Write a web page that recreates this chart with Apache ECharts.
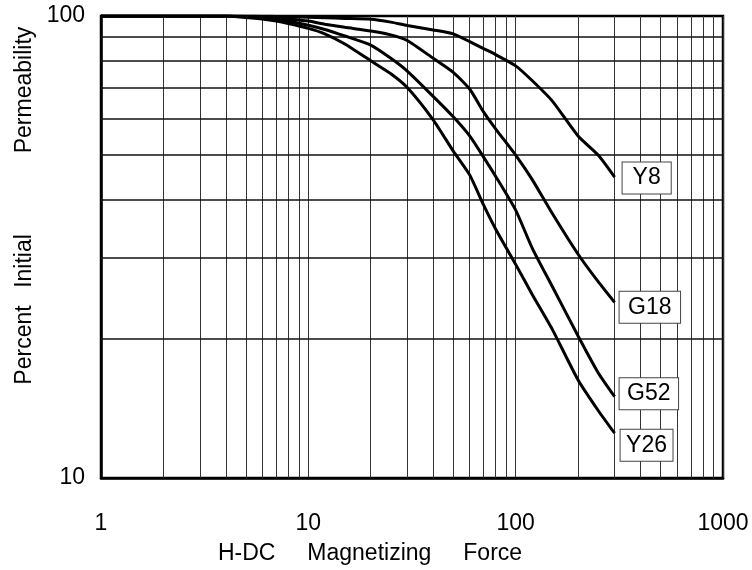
<!DOCTYPE html>
<html>
<head>
<meta charset="utf-8">
<script src="https://cdn.jsdelivr.net/npm/echarts@6/dist/echarts.min.js"></script>
<style>
html,body{margin:0;padding:0;background:#fff;}
#chart{width:752px;height:570px;}
</style>
</head>
<body>
<div id="chart"></div>
<script>
// ---- data ----
const seriesNames = ['Y8', 'G18', 'G52', 'Y26'];
const xValues = [1, 2, 3, 4, 5, 6, 7, 8, 10, 12, 15, 20, 25, 30, 40, 50, 60, 70, 80, 100, 120, 150, 200, 250, 300];
const y8  = [100, 100, 100, 100, 100, 99.9, 99.8, 99.7, 99.4, 99.1, 98.8, 98.4, 97, 95.4, 93.3, 91.5, 88, 85, 82.5, 78, 72.5, 65.5, 55, 50, 44.8];
const g18 = [100, 100, 100, 100, 99.8, 99.5, 99, 98.5, 97.5, 96, 94.5, 92.8, 91, 88.5, 81, 75.5, 69.5, 62, 57, 50, 44.3, 37.4, 30.5, 26.6, 24];
const g52 = [100, 100, 100, 100, 99.5, 99, 98.3, 97.5, 95.5, 93.5, 90.5, 86.5, 81, 76, 67, 60.5, 55, 49.5, 45, 38, 31.5, 26, 20.3, 16.9, 15];
const y26 = [100, 100, 100, 100, 99.3, 98.5, 97.5, 96.3, 94, 91.5, 87, 80, 75, 70, 59.6, 51, 45.3, 39, 34.6, 29, 25, 21, 16.3, 14, 12.5];
const xGridValues = [2, 3, 4, 5, 6, 7, 8, 9, 20, 30, 40, 50, 60, 70, 80, 90, 200, 300, 400, 500, 600, 700, 800, 900];
const yGridValues = [20, 30, 40, 50, 60, 70, 80, 90];
const xAxisTitle = 'H-DC     Magnetizing     Force';
const yAxisTitleWords = ['Percent', 'Initial', 'Permeability'];

const FONT = '"Liberation Sans", Arial, sans-serif';
const curves = [y8, g18, g52, y26];
const labelOffsets = [[3, 1], [0, 5], [0, -3], [1, 12]];
const labelPads = [[4, 10], [4, 8.5], [4, 7.5], [4, 5.5]];

const chart = echarts.init(document.getElementById('chart'), null, {renderer: 'canvas'});

const gridMarks = [];
xGridValues.forEach(v => gridMarks.push({xAxis: v, lineStyle: {color: '#333', width: 1, type: 'solid'}}));
yGridValues.forEach(v => gridMarks.push({yAxis: v, lineStyle: {color: '#111', width: 1.6, type: 'solid'}}));

const series = [{
  type: 'line',
  name: 'grid',
  data: [[1, 100]],
  showSymbol: false,
  lineStyle: {opacity: 0},
  silent: true,
  z: 1,
  markLine: {
    silent: true,
    symbol: ['none', 'none'],
    label: {show: false},
    animation: false,
    lineStyle: {type: 'solid'},
    data: gridMarks
  }
}];
curves.forEach((vals, i) => {
  series.push({
    type: 'line',
    name: seriesNames[i],
    data: xValues.map((x, j) => [x, vals[j]]),
    showSymbol: false,
    smooth: 0.2,
    lineStyle: {color: '#000', width: 3},
    z: 5,
    endLabel: {
      show: true,
      formatter: seriesNames[i],
      fontFamily: FONT,
      fontSize: 23,
      color: '#000',
      backgroundColor: '#fff',
      borderColor: '#444',
      borderWidth: 1,
      padding: labelPads[i],
      distance: 5,
      offset: labelOffsets[i]
    }
  });
});

const yTitleCenters = [345, 261, 90];
const graphics = [
  {type: 'text', x: 370, y: 554, z: 10,
    style: {text: xAxisTitle, font: '23px ' + FONT, fill: '#000', align: 'center', verticalAlign: 'middle', textAlign: 'center', textVerticalAlign: 'middle'}}
];
yAxisTitleWords.forEach((w, i) => {
  graphics.push({type: 'text', x: 25, y: yTitleCenters[i], rotation: Math.PI / 2, z: 10,
    style: {text: w, font: '23px ' + FONT, fill: '#000', align: 'center', verticalAlign: 'middle', textAlign: 'center', textVerticalAlign: 'middle'}});
});

const option = {
  animation: false,
  backgroundColor: '#fff',
  grid: {left: 101, right: 29, top: 16, bottom: 92, show: true, borderColor: '#000', borderWidth: 2.5, backgroundColor: 'transparent'},
  xAxis: {
    type: 'log', logBase: 10, min: 1, max: 1000,
    axisLine: {show: true, lineStyle: {color: '#000', width: 2.5}},
    axisTick: {show: false},
    axisLabel: {fontFamily: FONT, fontSize: 23, color: '#000', margin: 34, formatter: v => String(Math.round(v))},
    splitLine: {show: true, lineStyle: {color: '#333', width: 1, type: 'solid'}},
    minorTick: {show: false}
  },
  yAxis: {
    type: 'log', logBase: 10, min: 10, max: 100,
    axisLine: {show: true, lineStyle: {color: '#000', width: 2.5}},
    axisTick: {show: false},
    axisLabel: {fontFamily: FONT, fontSize: 23, color: '#000', margin: 16, formatter: v => String(Math.round(v))},
    splitLine: {show: false}
  },
  graphic: graphics,
  series: series
};
chart.setOption(option);
</script>
</body>
</html>
